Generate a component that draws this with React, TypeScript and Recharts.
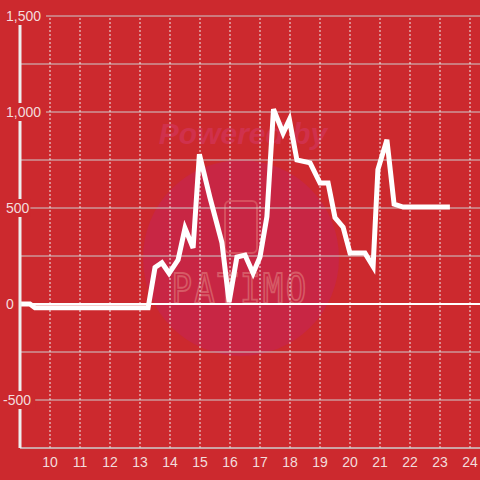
import { LineChart, Line, XAxis, YAxis, CartesianGrid, ReferenceLine } from "recharts";

// hour of day (decimal) and value
const hours = [
  9, 9.33, 9.5, 13.27, 13.5, 13.73, 13.97, 14.27, 14.5, 14.77, 14.98, 15.33, 15.73, 15.97,
  16.23, 16.5, 16.77, 17.0, 17.23, 17.45, 17.77, 17.98, 18.23, 18.67, 19.0, 19.27, 19.5,
  19.77, 20.0, 20.5, 20.77, 20.93, 21.23, 21.47, 21.77, 23.33,
];
const values = [
  0, 0, -20, -20, 190, 215, 160, 230, 395, 292, 780, 555, 320, 10,
  245, 255, 160, 245, 455, 1015, 890, 960, 750, 735, 630, 630, 450,
  400, 265, 265, 195, 700, 855, 520, 505, 505,
];

const xTicks = [10, 11, 12, 13, 14, 15, 16, 17, 18, 19, 20, 21, 22, 23, 24];
const yTicks = [-500, -250, 0, 250, 500, 750, 1000, 1250, 1500];
const yLabelled = [-500, 0, 500, 1000, 1500];
const xDomain = [9, 24.3333];

const data = hours.map((h, i) => ({ hour: h, value: values[i] }));

const BG = "#cc292e";
const TEXT = "#f3dcdc";
const FONT = "'Liberation Sans', Arial, sans-serif";

// y labels sit over the axis line with a red box behind them
function YTick(props: any) {
  const { y, payload } = props;
  if (!yLabelled.includes(payload.value)) return null;
  const label = payload.value.toLocaleString("en-US");
  const w = label.length * 7.8;
  const x0 = payload.value < 0 ? 3 : 6;
  return (
    <g>
      <rect x={x0 - 1} y={y - 9} width={w + 2} height={18} fill={BG} />
      <text x={x0} y={y} fill={TEXT} fontSize={14} fontFamily={FONT} textAnchor="start" dominantBaseline="central">
        {label}
      </text>
    </g>
  );
}

function XTick(props: any) {
  const { x, payload } = props;
  return (
    <text x={x} y={462} fill={TEXT} fontSize={14} fontFamily={FONT} textAnchor="middle" dominantBaseline="central">
      {payload.value}
    </text>
  );
}

function Watermark() {
  return (
    <svg width={480} height={480} style={{ position: "absolute", left: 0, top: 0 }}>
      <circle cx={241} cy={258} r={98} fill="#c82644" />
      <text x={243} y={144} textAnchor="middle" fontSize={30} fontWeight="bold" fontStyle="italic" fontFamily={FONT} fill="#d0314c">
        Powered by
      </text>
      <rect x={225} y={201} width={32} height={52} rx={5} fill="none" stroke="#d5505e" strokeWidth={2} />
      <text
        transform="translate(240,303) scale(1,1.2)"
        x={0}
        y={0}
        textAnchor="middle"
        fontSize={34}
        letterSpacing={2.4}
        fontFamily="'DejaVu Sans Mono', monospace"
        fill="none"
        stroke="#d65a66"
        strokeWidth={1.6}
      >
        PATIMO
      </text>
    </svg>
  );
}

export default function App() {
  return (
    <div style={{ position: "absolute", left: 0, top: 0, width: 480, height: 480, background: BG }}>
      <Watermark />
      <div style={{ position: "absolute", left: 0, top: 0 }}>
        <LineChart width={480} height={480} data={data} margin={{ top: 16, right: 0, bottom: 0, left: 0 }}>
          <CartesianGrid vertical={false} stroke="#cdcdcd" strokeWidth={1} />
          {xTicks.map((t) => (
            <ReferenceLine key={t} x={t} stroke="#eeeeee" strokeDasharray="2 2" strokeWidth={1} />
          ))}
          <XAxis
            dataKey="hour"
            type="number"
            domain={xDomain}
            ticks={xTicks}
            height={32}
            axisLine={{ stroke: "#cdcdcd", strokeWidth: 1 }}
            tickLine={false}
            tick={<XTick />}
            interval={0}
          />
          <YAxis
            type="number"
            domain={[-750, 1500]}
            ticks={yTicks}
            width={20}
            axisLine={{ stroke: "#eeeeee", strokeWidth: 3 }}
            tickLine={false}
            tick={<YTick />}
            interval={0}
          />
          <ReferenceLine y={0} stroke="#ffffff" strokeWidth={2} />
          <Line
            type="linear"
            dataKey="value"
            stroke="#ffffff"
            strokeWidth={5}
            dot={false}
            isAnimationActive={false}
          />
        </LineChart>
      </div>
    </div>
  );
}
